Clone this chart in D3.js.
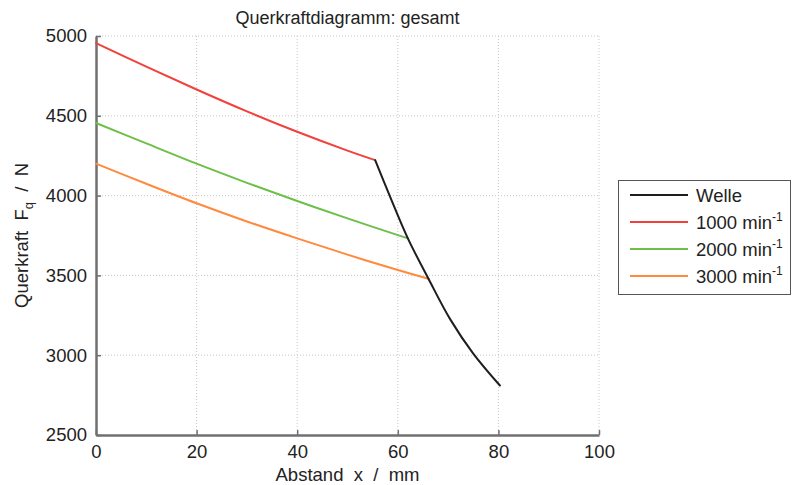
<!DOCTYPE html>
<html>
<head>
<meta charset="utf-8">
<script src="https://cdn.jsdelivr.net/npm/d3@7"></script>
<style>
  html, body { margin: 0; padding: 0; background: #fff; }
  svg { display: block; font-family: "Liberation Sans", Arial, Helvetica, sans-serif; }
</style>
</head>
<body>
<svg id="chart" width="795" height="485"></svg>
<script>
// ---- data ----
const titleText = "Querkraftdiagramm: gesamt";
const xTicks = [0, 20, 40, 60, 80, 100];
const yTicks = [2500, 3000, 3500, 4000, 4500, 5000];

const xWelle = [55.5, 58.5, 62, 66.1, 70.4, 75, 80.3];
const yWelle = [4222, 3990, 3732, 3479, 3226, 3010, 2810];

const x1000 = [0, 10, 20, 30, 40, 50, 55.5];
const y1000 = [4955, 4808, 4665, 4528, 4400, 4282, 4222];

const x2000 = [0, 10, 20, 30, 40, 50, 62];
const y2000 = [4455, 4327, 4200, 4080, 3966, 3857, 3732];

const x3000 = [0, 10, 20, 30, 40, 50, 60, 66.1];
const y3000 = [4200, 4074, 3952, 3838, 3732, 3630, 3534, 3479];

const seriesNames = ["Welle", "1000 min", "2000 min", "3000 min"];
const seriesSup = ["", "-1", "-1", "-1"];
const seriesColors = ["#1e1e1e", "#f2413c", "#6cc04a", "#ff8a3d"];

// ---- layout ----
const svg = d3.select("#chart");
const L = 96, R = 599, T = 36, B = 435;
const x = d3.scaleLinear().domain([0, 100]).range([L, R]);
const y = d3.scaleLinear().domain([2500, 5000]).range([B, T]);

svg.append("rect").attr("width", 795).attr("height", 485).attr("fill", "#fff");

// grid
const grid = svg.append("g").attr("stroke", "#c8c8c8").attr("stroke-width", 1)
  .attr("stroke-dasharray", "1,2");
grid.selectAll(".gx").data(xTicks.filter(d => d > 0)).enter().append("line")
  .attr("x1", d => x(d)).attr("x2", d => x(d)).attr("y1", T).attr("y2", B);
grid.selectAll(".gy").data(yTicks.filter(d => d > 2500)).enter().append("line")
  .attr("y1", d => y(d)).attr("y2", d => y(d)).attr("x1", L).attr("x2", R);

// axes
const xAxis = d3.axisBottom(x).tickValues(xTicks).tickFormat(d3.format("d"))
  .tickSizeInner(-5).tickSizeOuter(0).tickPadding(10);
const yAxis = d3.axisLeft(y).tickValues(yTicks).tickFormat(d3.format("d"))
  .tickSizeInner(-5).tickSizeOuter(0).tickPadding(9);

const gx = svg.append("g").attr("transform", `translate(0,${B})`).call(xAxis);
const gy = svg.append("g").attr("transform", `translate(${L},0)`).call(yAxis);
[gx, gy].forEach(g => {
  g.select(".domain").attr("stroke", "#707070").attr("stroke-width", 2.5);
  g.selectAll(".tick line").attr("stroke", "#707070").attr("stroke-width", 1.5);
  g.selectAll(".tick text").attr("font-size", 18.5).attr("fill", "#222")
    .attr("font-family", "Liberation Sans, Arial, sans-serif");
});

// lines
const lineGen = d3.line().x(d => x(d[0])).y(d => y(d[1])).curve(d3.curveCatmullRom);
const seriesData = [
  xWelle.map((v, i) => [v, yWelle[i]]),
  x1000.map((v, i) => [v, y1000[i]]),
  x2000.map((v, i) => [v, y2000[i]]),
  x3000.map((v, i) => [v, y3000[i]])
];
[1, 2, 3, 0].forEach(i => {
  svg.append("path").datum(seriesData[i]).attr("d", lineGen)
    .attr("fill", "none").attr("stroke", seriesColors[i]).attr("stroke-width", 2)
    .attr("stroke-linejoin", "round").attr("stroke-linecap", "round");
});

// title
svg.append("text").attr("x", (L + R) / 2).attr("y", 24).attr("text-anchor", "middle")
  .attr("font-size", 18).attr("fill", "#222").text(titleText);

// x label
svg.append("text").attr("x", (L + R) / 2).attr("y", 481).attr("text-anchor", "middle")
  .attr("font-size", 18.5).attr("fill", "#222")
  .style("white-space", "pre").text("Abstand  x  /  mm");

// y label
const yl = svg.append("text").attr("transform", `translate(28,${(T + B) / 2}) rotate(-90)`)
  .attr("text-anchor", "middle").attr("font-size", 18.5).attr("fill", "#222")
  .style("white-space", "pre");
yl.append("tspan").text("Querkraft  F");
yl.append("tspan").attr("font-size", 13).attr("dy", 5).text("q");
yl.append("tspan").attr("dy", -5).text("  /  N");

// legend
const lg = svg.append("g");
lg.append("rect").attr("x", 618.5).attr("y", 180.5).attr("width", 172).attr("height", 114)
  .attr("fill", "#fff").attr("stroke", "#555").attr("stroke-width", 1);
const rowY = [195, 222, 249, 276];
seriesNames.forEach((name, i) => {
  lg.append("line").attr("x1", 630).attr("x2", 688).attr("y1", rowY[i]).attr("y2", rowY[i])
    .attr("stroke", seriesColors[i]).attr("stroke-width", 2);
  const t = lg.append("text").attr("x", 696).attr("y", rowY[i] + 6.5)
    .attr("font-size", 18.5).attr("fill", "#222");
  t.append("tspan").text(name);
  if (seriesSup[i]) {
    t.append("tspan").attr("font-size", 12).attr("dy", -8).text(seriesSup[i]);
  }
});
</script>
</body>
</html>
